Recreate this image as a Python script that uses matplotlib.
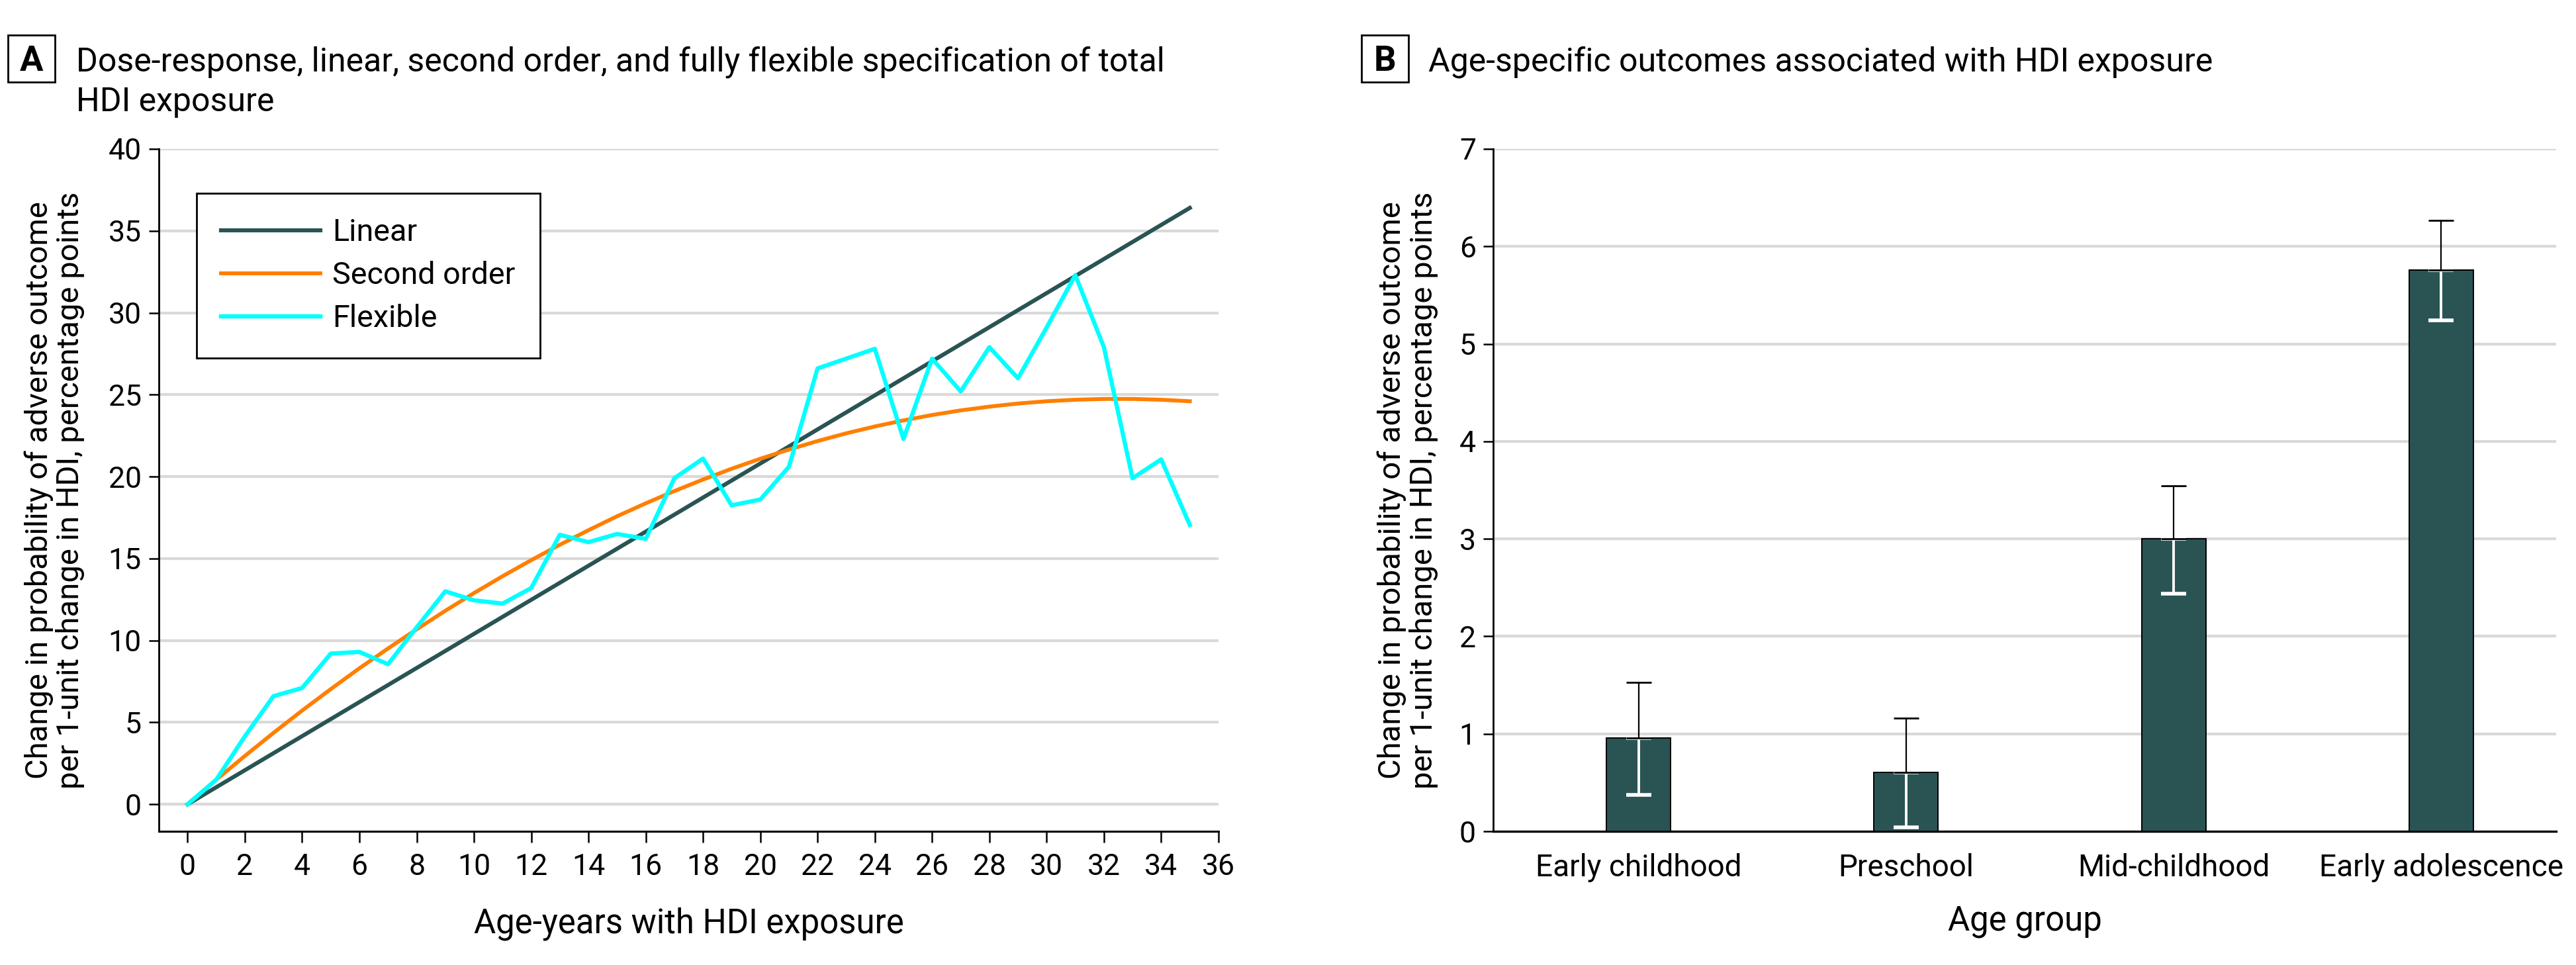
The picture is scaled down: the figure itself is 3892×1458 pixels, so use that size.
import numpy as np
import matplotlib
matplotlib.use("Agg")
import matplotlib.pyplot as plt
from matplotlib.patches import Rectangle

plt.rcParams['font.family'] = ['Roboto', 'DejaVu Sans']

# panel A data
years = list(range(0, 36))
linear_x = [0, 35]
linear_y = [0.0, 36.4]
second_order = [0.0, 1.50, 2.95, 4.36, 5.72, 7.03, 8.30, 9.51, 10.68, 11.81,
                12.89, 13.92, 14.90, 15.84, 16.73, 17.58, 18.37, 19.12, 19.82, 20.48,
                21.09, 21.65, 22.17, 22.64, 23.06, 23.43, 23.76, 24.04, 24.27, 24.46,
                24.60, 24.69, 24.74, 24.74, 24.69, 24.60]
flexible = [0.0, 1.5, 4.15, 6.6, 7.1, 9.2, 9.3, 8.55, 10.8, 13.0,
            12.45, 12.25, 13.2, 16.45, 16.0, 16.5, 16.2, 19.9, 21.1, 18.25,
            18.6, 20.6, 26.6, 27.2, 27.8, 22.3, 27.2, 25.2, 27.9, 26.0,
            29.1, 32.3, 27.9, 19.9, 21.05, 17.05]

# panel B data
groups = ['Early childhood', 'Preschool', 'Mid-childhood', 'Early adolescence']
est = [0.955, 0.605, 3.0, 5.76]
ci_low = [0.375, 0.04, 2.44, 5.24]
ci_high = [1.53, 1.16, 3.545, 6.265]

ylab = 'Change in probability of adverse outcome\nper 1-unit change in HDI, percentage points'

dark = '#2A5454'
orange = '#FF7F00'
cyan = '#00FFFF'
grid_c = '#D9D9D9'

fs_tick = 16
fs_cat = 16.5
fs_lab = 18.3
fs_ylab = 17
fs_title = 18
fs_leg = 16.8

W, H = 3892, 1458
fig = plt.figure(figsize=(W / 200, H / 200), dpi=200)
axA = fig.add_axes([0.0617, 0.1385, 0.4113, 0.7072])
axB = fig.add_axes([0.5797, 0.1385, 0.4126, 0.7072])

# ---- panel A
axA.plot(linear_x, linear_y, color=dark, lw=2.2, label='Linear', zorder=3)
axA.plot(years, second_order, color=orange, lw=2.1, label='Second order', zorder=3)
axA.plot(years, flexible, color=cyan, lw=2.3, label='Flexible', zorder=4)
axA.set_xlim(-1, 36)
axA.set_ylim(-1.65, 40)
axA.set_xticks(range(0, 37, 2))
axA.set_yticks(range(0, 41, 5))
for v in range(0, 41, 5):
    axA.axhline(v, color=grid_c, lw=1.5, zorder=1)
axA.spines['top'].set_visible(False)
axA.spines['right'].set_visible(False)
axA.spines['left'].set_linewidth(1.0)
axA.spines['bottom'].set_linewidth(1.1)
axA.tick_params(axis='x', length=6, width=0.9, labelsize=fs_tick, pad=6)
axA.tick_params(axis='y', length=5.5, width=0.9, labelsize=fs_tick, pad=4)
axA.set_xlabel('Age-years with HDI exposure', fontsize=fs_lab, labelpad=14)
axA.set_ylabel(ylab, fontsize=fs_ylab, linespacing=1.1)
axA.yaxis.set_label_coords(-0.070, 0.5)
leg = axA.legend(loc='upper left', bbox_to_anchor=(0.0356, 0.935), fontsize=fs_leg,
                 frameon=True, fancybox=False, framealpha=1, edgecolor='black',
                 handlelength=3.2, handletextpad=0.4, borderpad=0.8, labelspacing=0.45,
                 borderaxespad=0)
leg.get_frame().set_linewidth(1.0)

# ---- panel B
xpos = np.arange(len(groups))
axB.bar(xpos, est, width=0.24, color=dark, edgecolor='black', linewidth=0.7, zorder=3)
lo_err = [e - l for e, l in zip(est, ci_low)]
hi_err = [h - e for e, h in zip(est, ci_high)]
axB.errorbar(xpos, est, yerr=[lo_err, [0] * len(est)], fmt='none', ecolor='white',
             elinewidth=1.4, capsize=7, capthick=2.0, zorder=4)
axB.errorbar(xpos, est, yerr=[[0] * len(est), hi_err], fmt='none', ecolor='black',
             elinewidth=0.8, capsize=7, capthick=1.0, zorder=5)
axB.set_xlim(-0.543, 3.43)
axB.set_ylim(0, 7)
axB.set_yticks(range(0, 8))
axB.set_xticks(xpos)
axB.set_xticklabels(groups)
for v in range(1, 8):
    axB.axhline(v, color=grid_c, lw=1.5, zorder=1)
axB.spines['top'].set_visible(False)
axB.spines['right'].set_visible(False)
axB.spines['left'].set_linewidth(1.0)
axB.spines['bottom'].set_linewidth(1.2)
axB.tick_params(axis='x', length=0, labelsize=fs_cat, pad=12)
axB.tick_params(axis='y', length=5.5, width=0.9, labelsize=fs_tick, pad=4)
axB.set_xlabel('Age group', fontsize=fs_lab, labelpad=12)
axB.set_ylabel(ylab, fontsize=fs_ylab, linespacing=1.1)
axB.yaxis.set_label_coords(-0.052, 0.5)

# ---- panel titles with boxed letters
for x0, letter in [(12, 'A'), (2057, 'B')]:
    fig.add_artist(Rectangle((x0 / W, 1 - 124 / H), 71 / W, 71 / H, transform=fig.transFigure,
                             fill=False, ec='black', lw=1.0))
    fig.text((x0 + 35.5) / W, 1 - 107 / H, letter, fontsize=fs_title + 1, fontweight='bold',
             ha='center', va='baseline')
fig.text(115 / W, 1 - 107 / H,
         'Dose-response, linear, second order, and fully flexible specification of total',
         fontsize=fs_title, ha='left', va='baseline')
fig.text(115 / W, 1 - 168 / H, 'HDI exposure', fontsize=fs_title, ha='left', va='baseline')
fig.text(2158 / W, 1 - 107 / H, 'Age-specific outcomes associated with HDI exposure',
         fontsize=fs_title, ha='left', va='baseline')

fig.savefig('out.png', dpi=200)
